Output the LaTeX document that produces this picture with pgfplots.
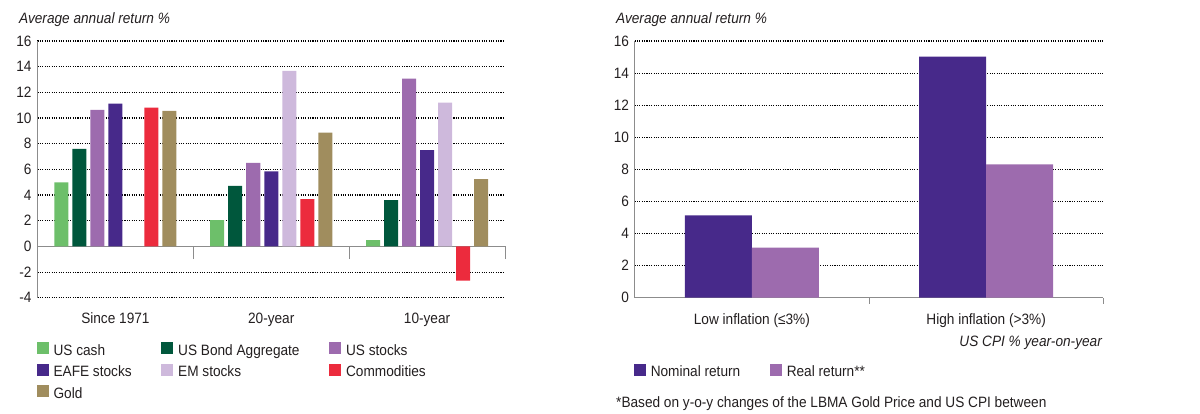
\documentclass[border=0pt]{standalone}
\usepackage{fontspec}
\setmainfont{Liberation Sans}[FakeStretch=0.91]
\usepackage{pgfplots}
\pgfplotsset{compat=1.18}
\definecolor{txt}{HTML}{231F20}
\definecolor{cash}{HTML}{6DBF6A}
\definecolor{bond}{HTML}{00573C}
\definecolor{usst}{HTML}{9D6BAE}
\definecolor{eafe}{HTML}{47298A}
\definecolor{em}{HTML}{CEB9DC}
\definecolor{comm}{HTML}{EC2B3D}
\definecolor{gold}{HTML}{A08D5E}
\definecolor{axisgray}{HTML}{8C8C8C}
\pgfplotsset{
  common/.style={
    scale only axis,
    /pgf/number format/assume math mode=true,
    tick label style={font=\fontsize{15pt}{18pt}\selectfont, text=txt},
    axis line style={axisgray, line width=0.8pt},
    ymajorgrids,
    grid style={black, line width=1.05pt, dash pattern=on 1.05pt off 1.3pt},
    ytick style={draw=none},
    yticklabel style={anchor=east, inner sep=0pt, xshift=0.5pt},
    hide obscured x ticks=false, hide obscured y ticks=false,
    legend style={draw=none, fill=none, inner sep=0pt, outer sep=0pt,
      font=\fontsize{15pt}{18pt}\selectfont, text=txt, row sep=4.3pt,
      nodes={inner sep=1pt, text height=11pt, text depth=3pt},
      /tikz/every odd column/.append style={column sep=4pt},
      /tikz/every even column/.append style={column sep=28.5pt}},
    legend cell align=left,
  },
  sq legend/.style={legend image code/.code={\fill[##1] (0pt,-3pt) rectangle (12pt,9pt);}},
}
\begin{document}
\fontsize{15pt}{18pt}\selectfont
\begin{tikzpicture}
\begin{axis}[common,
  at={(37.5pt,116.3pt)}, anchor=south west,
  width=467.5pt, height=256.7pt,
  xmin=-0.5, xmax=2.5, ymin=-4, ymax=16,
  axis x line*=middle, axis y line*=left,
  ytick={-4,-2,...,16},
  xtick={0.5,1.5,2.5}, xticklabels={},
  tick align=center, major tick length=12.7pt,
  xtick style={axisgray, line width=0.8pt},
  extra x ticks={0,1,2},
  extra x tick labels={Since 1971,20-year,10-year},
  extra x tick style={major tick length=0pt, xtick style={draw=none},
    tick label style={anchor=base, inner sep=0pt, yshift=-77.5pt}},
  ybar=4pt, bar width=14pt, sq legend,
  legend columns=3,
  legend style={at={(-0.002,-0.1745)}, anchor=north west},
]
\addplot[fill=cash, draw=none] coordinates {(0,4.98) (1,2.05) (2,0.49)};
\addlegendentry{US cash}
\addplot[fill=bond, draw=none] coordinates {(0,7.6) (1,4.72) (2,3.6)};
\addlegendentry{US Bond Aggregate}
\addplot[fill=usst, draw=none] coordinates {(0,10.63) (1,6.51) (2,13.07)};
\addlegendentry{US stocks}
\addplot[fill=eafe, draw=none] coordinates {(0,11.13) (1,5.84) (2,7.49)};
\addlegendentry{EAFE stocks}
\addplot[fill=em, draw=none] coordinates {(1,13.67) (2,11.2)};
\addlegendentry{EM stocks}
\addplot[fill=comm, draw=none] coordinates {(0,10.81) (1,3.68) (2,-2.67)};
\addlegendentry{Commodities}
\addplot[fill=gold, draw=none] coordinates {(0,10.55) (1,8.87) (2,5.24)};
\addlegendentry{Gold}
\end{axis}

\begin{axis}[common,
  at={(634.7pt,116.3pt)}, anchor=south west,
  width=468.6pt, height=256.7pt,
  xmin=-0.5, xmax=1.5, ymin=0, ymax=16,
  axis x line*=bottom, axis y line*=left,
  ytick={0,2,...,16},
  xtick={0.5,1.5}, xticklabels={},
  tick align=outside, major tick length=6pt,
  xtick style={axisgray, line width=0.8pt},
  extra x ticks={0,1},
  extra x tick labels={Low inflation (≤3\%),High inflation (>3\%)},
  extra x tick style={major tick length=0pt, xtick style={draw=none},
    tick label style={anchor=base, inner sep=0pt, yshift=-26.6pt}},
  ybar=0pt, bar width=67pt, sq legend,
  legend columns=2,
  legend style={at={(-0.002,-0.2571)}, anchor=north west},
]
\addplot[fill=eafe, draw=none] coordinates {(0,5.13) (1,15.02)};
\addlegendentry{Nominal return}
\addplot[fill=usst, draw=none] coordinates {(0,3.12) (1,8.31)};
\addlegendentry{Real return**}
\end{axis}

\node[anchor=base west, inner sep=0pt, text=txt, font=\itshape] at (19pt,390pt) {Average annual return \%};
\node[anchor=base west, inner sep=0pt, text=txt, font=\itshape] at (616pt,390pt) {Average annual return \%};
\node[anchor=base east, inner sep=0pt, text=txt, font=\itshape] at (1102pt,67.5pt) {US CPI \% year-on-year};
\node[anchor=base west, inner sep=0pt, text=txt] at (616pt,6.3pt) {*Based on y-o-y changes of the LBMA Gold Price and US CPI between};
\pgfresetboundingbox
\path (0pt,0pt) rectangle (1200pt,414pt);
\end{tikzpicture}
\end{document}
